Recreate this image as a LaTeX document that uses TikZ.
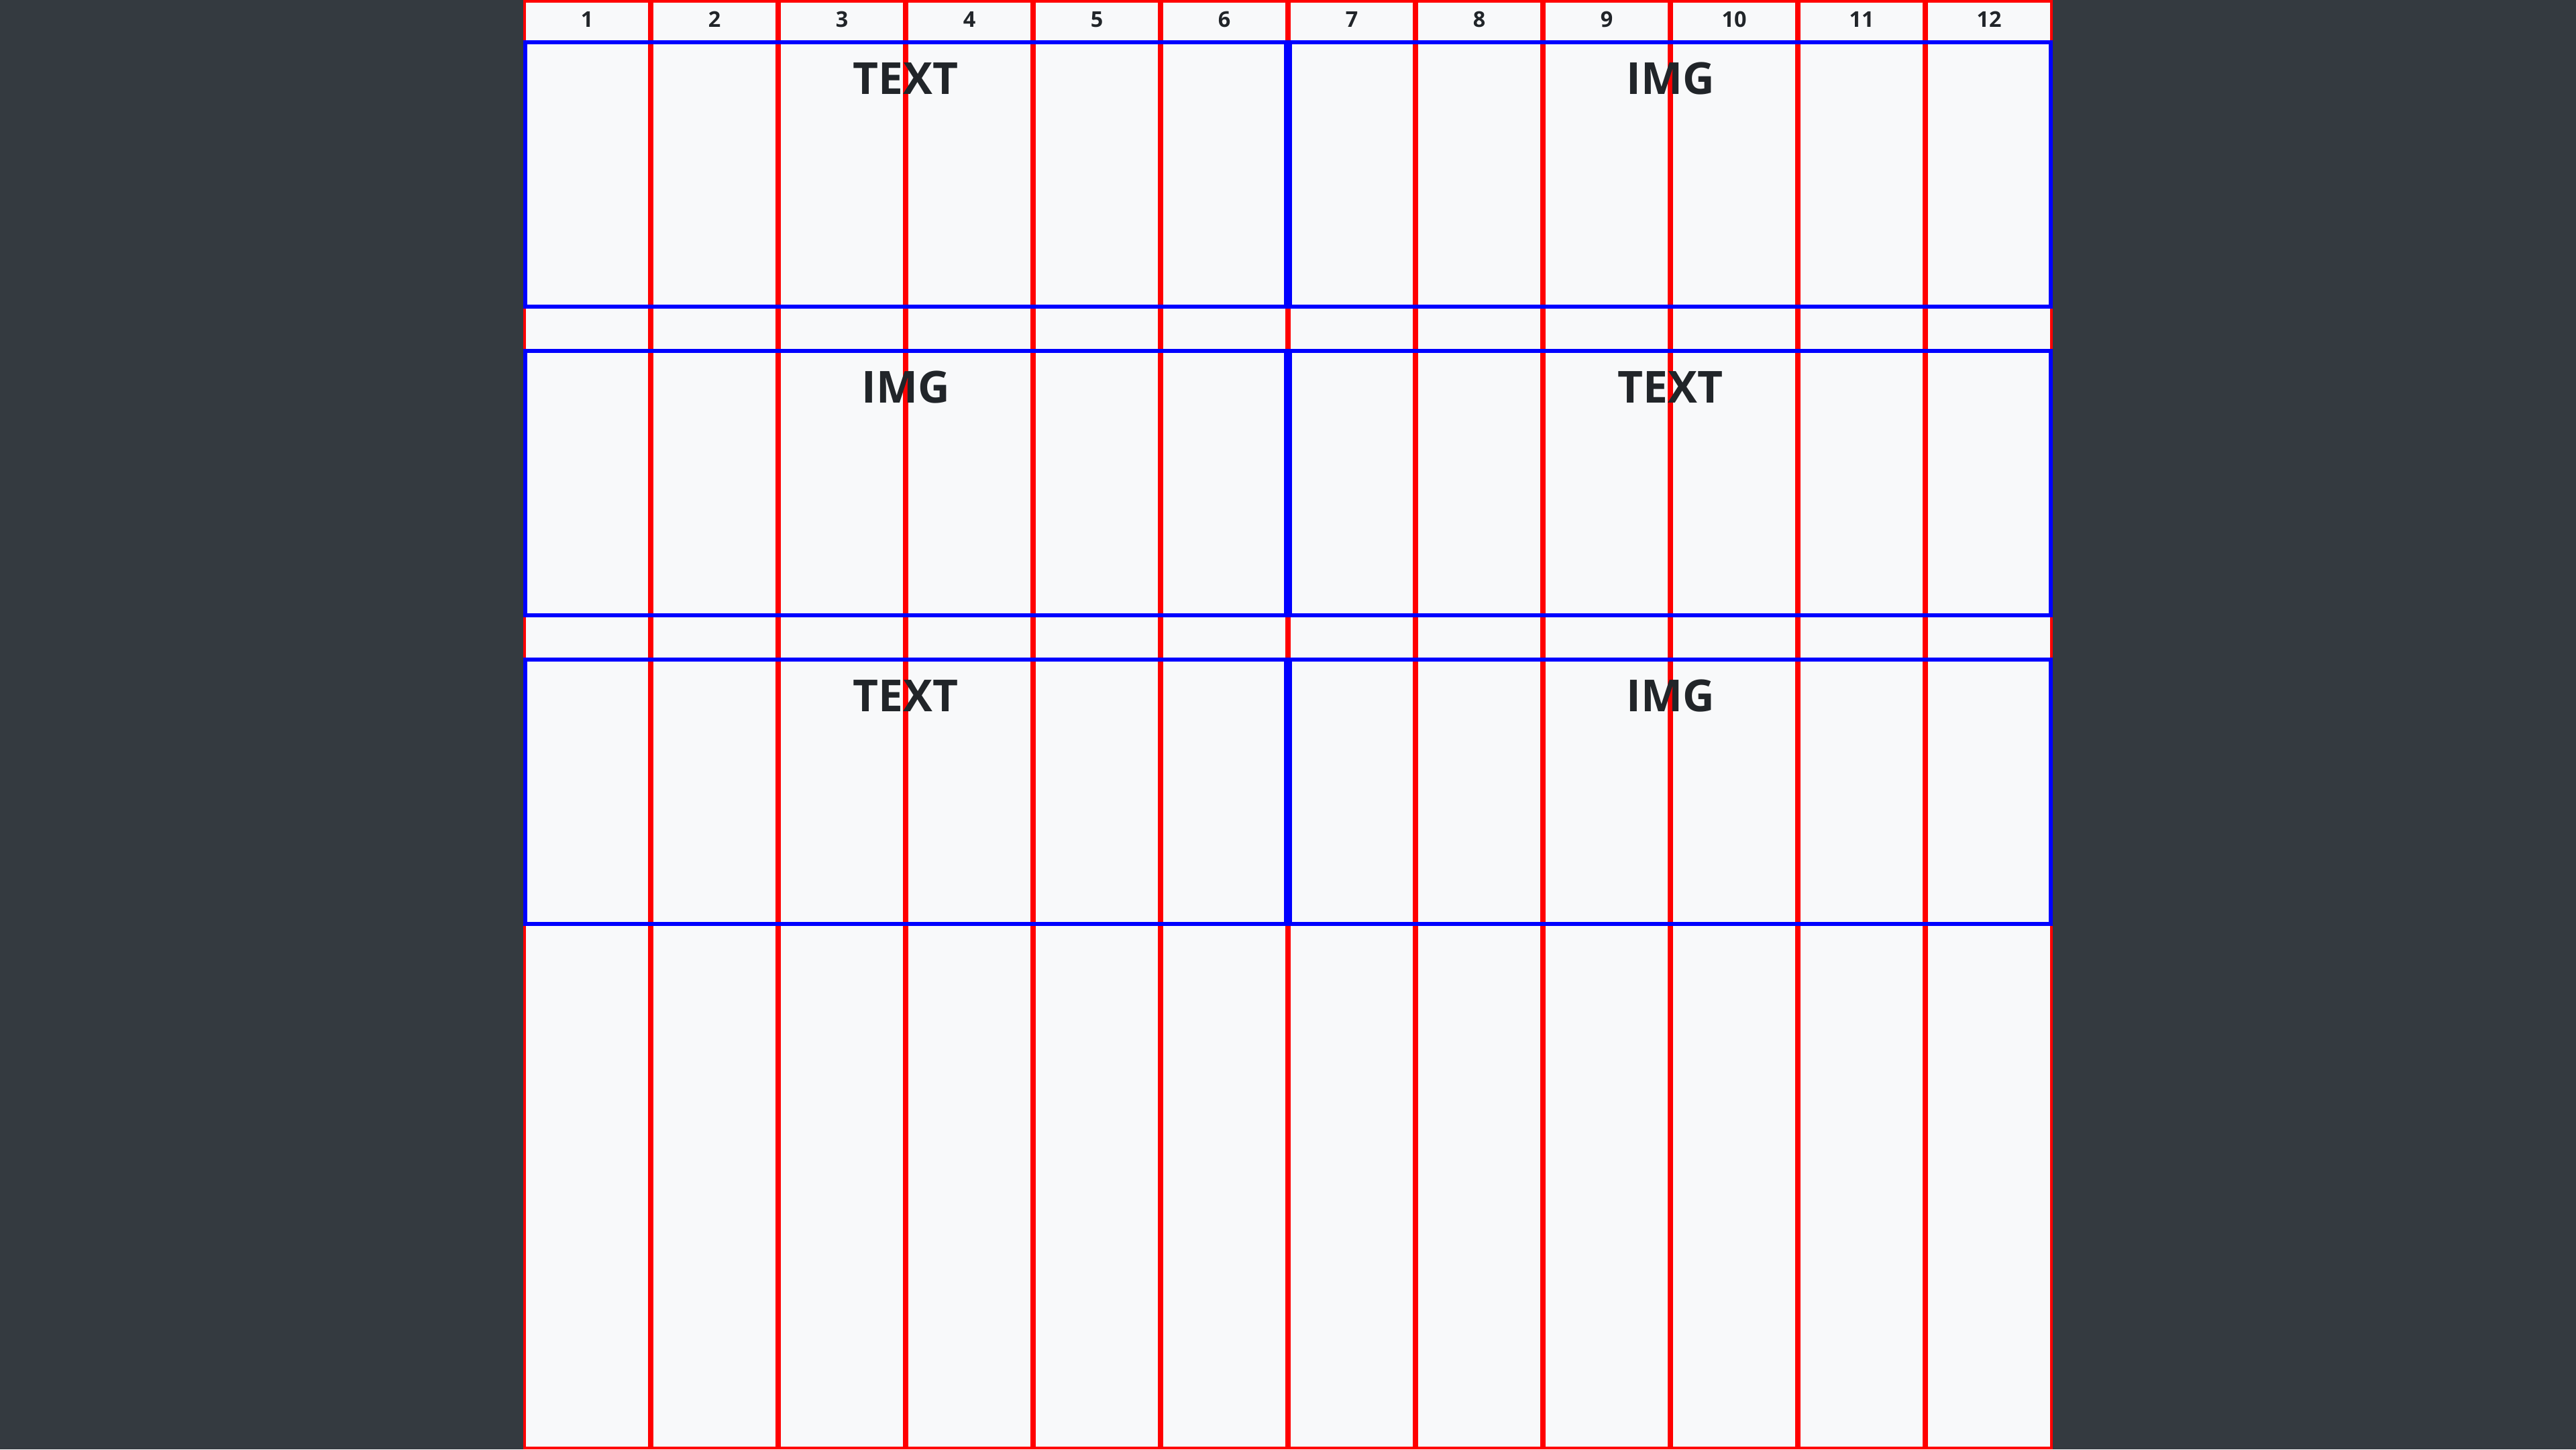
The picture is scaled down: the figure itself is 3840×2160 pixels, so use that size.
\documentclass[tikz,border=0pt]{standalone}
\usepackage{fontspec}
\setmainfont{Open Sans}
\definecolor{pagedark}{RGB}{52, 58, 64}
\definecolor{gridlight}{RGB}{248, 249, 250}
\definecolor{colred}{RGB}{255, 0, 0}
\definecolor{rowblue}{RGB}{0, 0, 255}
\definecolor{labelink}{RGB}{33, 37, 41}
\usetikzlibrary{positioning}

\begin{document}
\begin{tikzpicture}[x=0.01cm, y=-0.01cm]
    \fill[pagedark] (0,0) rectangle (3840,2160);
    \fill[gridlight] (780,0) rectangle (3060,2160);
    % twelve columns with their numbers
    \foreach \c in {1,...,12} {
      \draw[colred, line width=0.04cm] ({780+190*(\c-1)+2},2) rectangle ({780+190*\c-2},2158);
      \node[font=\bfseries\fontsize{9.2}{11}\selectfont, text=labelink, anchor=base,
            inner sep=0pt] (num\c) at ({780+190*\c-95},40) {\c};
    }
    % three rows, two halves each
    \foreach \r/\lab/\rab in {1/TEXT/IMG, 2/IMG/TEXT, 3/TEXT/IMG} {
      \pgfmathsetmacro{\top}{60+460*(\r-1)}
      \draw[rowblue, line width=0.06cm] (783,\top+3) rectangle (1917,\top+397);
      \draw[rowblue, line width=0.06cm] (1923,\top+3) rectangle (3057,\top+397);
      \node[font=\bfseries\fontsize{18.7}{22}\selectfont, text=labelink, anchor=base,
            inner sep=0pt] (lhalf\r) at (1350,\top+80) {\lab};
      \node[font=\bfseries\fontsize{18.7}{22}\selectfont, text=labelink, anchor=base,
            inner sep=0pt] (rhalf\r) at (2490,\top+80) {\rab};
    }
  \end{tikzpicture}
\end{document}
